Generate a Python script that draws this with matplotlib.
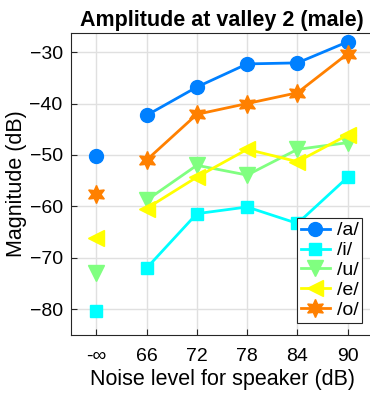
import numpy as np
import matplotlib
matplotlib.use("Agg")
import matplotlib.pyplot as plt

plt.rcParams['font.family'] = ['Liberation Sans', 'DejaVu Sans']

# x categories (first one is the quiet / -inf condition)
xlabels = ['-\u221e', '66', '72', '78', '84', '90']
vowels = ['/a/', '/i/', '/u/', '/e/', '/o/']

a_vals = [-50.2, -42.3, -36.8, -32.3, -32.1, -28.0]
i_vals = [-80.3, -72.0, -61.4, -60.1, -63.3, -54.3]
u_vals = [-73.0, -58.8, -52.0, -53.9, -48.9, -47.6]
e_vals = [-66.2, -60.4, -54.3, -48.9, -51.3, -46.1]
o_vals = [-57.6, -51.0, -42.1, -40.0, -37.9, -30.3]

series = [a_vals, i_vals, u_vals, e_vals, o_vals]
colors = ['#0080ff', '#00ffff', '#80ff80', '#ffff00', '#ff8000']
markers = ['o', 's', 'v', '<', (6, 1, 0)]
sizes = [10, 9, 11, 12, 13]

fig = plt.figure(figsize=(3.7, 3.98), dpi=100)
ax = fig.add_axes([0.192, 0.158, 0.816, 0.759])

x = np.arange(len(xlabels))
for vals, c, m, ms, name in zip(series, colors, markers, sizes, vowels):
    # quiet condition drawn alone, noise conditions joined by a line
    ax.plot(x[:1], vals[:1], linestyle='none', marker=m, color=c, markersize=ms)
    ax.plot(x[1:], vals[1:], '-', marker=m, color=c, markersize=ms,
            linewidth=2, label=name)

ax.set_xticks(x)
ax.set_xticklabels(xlabels)
ax.set_xlim(-0.5, 5.5)
ax.set_ylim(-85, -26.3)
ax.set_yticks([-80, -70, -60, -50, -40, -30])
ax.grid(True, color='#e0e0e0', linewidth=1)
ax.set_axisbelow(True)
ax.tick_params(direction='in', labelsize=14, length=4, color='#262626')
ax.tick_params(axis='x', pad=9)
ax.tick_params(axis='y', pad=6)
for s in ax.spines.values():
    s.set_color('#262626')

ax.set_xlabel('Noise level for speaker (dB)', fontsize=15.5, labelpad=3)
ax.set_ylabel('Magnitude (dB)', fontsize=15.5, labelpad=2)
ax.set_title('Amplitude at valley 2 (male)', fontsize=15.5, fontweight='bold', pad=5)

leg = ax.legend(loc='lower right', bbox_to_anchor=(0.965, 0.04), fontsize=14,
                fancybox=False, edgecolor='#262626', framealpha=1,
                handlelength=1.5, borderpad=0.2, labelspacing=0.12,
                handletextpad=0.35, borderaxespad=0)
leg.get_frame().set_linewidth(0.8)

fig.savefig('out.png', dpi=100)
